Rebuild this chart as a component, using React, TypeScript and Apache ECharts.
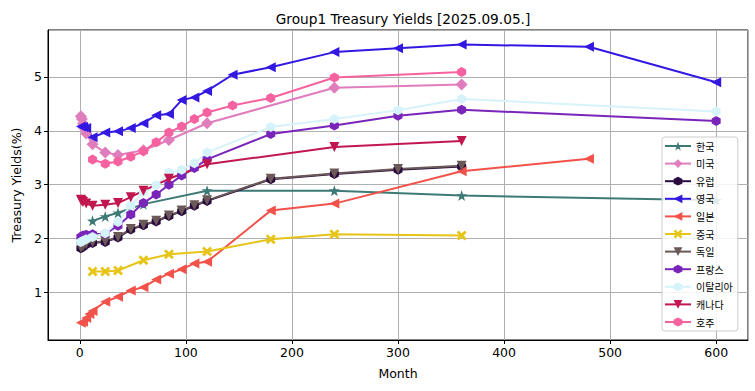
import React, { useEffect, useRef } from "react";
import * as echarts from "echarts";

// ---- data (months, yields %) ----
const koreaMonths = [12, 24, 36, 60, 120, 240, 360, 600];
const koreaYields = [2.33, 2.41, 2.48, 2.64, 2.89, 2.89, 2.8, 2.71];

const usMonths = [1, 2, 3, 4, 6, 12, 24, 36, 60, 84, 120, 240, 360];
const usYields = [4.27, 4.22, 4.13, 4.05, 3.95, 3.75, 3.6, 3.55, 3.64, 3.83, 4.14, 4.8, 4.86];

const euMonths = [1, 3, 6, 12, 24, 36, 48, 60, 72, 84, 96, 108, 120, 180, 240, 300, 360];
const euYields = [1.82, 1.85, 1.89, 1.92, 1.94, 2.02, 2.17, 2.25, 2.32, 2.42, 2.51, 2.61, 2.7, 3.1, 3.2, 3.28, 3.34];

const ukMonths = [1, 3, 6, 12, 24, 36, 48, 60, 72, 84, 96, 108, 120, 144, 180, 240, 300, 360, 480, 600];
const ukYields = [4.08, 4.07, 4.05, 3.88, 3.97, 3.99, 4.05, 4.14, 4.29, 4.31, 4.57, 4.62, 4.74, 5.04, 5.18, 5.46, 5.53, 5.6, 5.56, 4.9];

const jpMonths = [1, 3, 6, 9, 12, 24, 36, 48, 60, 72, 84, 96, 108, 120, 180, 240, 360, 480];
const jpYields = [0.44, 0.46, 0.53, 0.6, 0.66, 0.83, 0.92, 1.04, 1.1, 1.24, 1.35, 1.43, 1.54, 1.57, 2.52, 2.65, 3.25, 3.48];

const cnMonths = [12, 24, 36, 60, 84, 120, 180, 240, 360];
const cnYields = [1.39, 1.39, 1.41, 1.6, 1.71, 1.76, 1.99, 2.08, 2.06];

const deMonths = [1, 3, 6, 12, 24, 36, 48, 60, 72, 84, 96, 108, 120, 180, 240, 300, 360];
const deYields = [1.83, 1.86, 1.9, 1.93, 1.95, 2.03, 2.18, 2.26, 2.33, 2.43, 2.52, 2.62, 2.71, 3.11, 3.21, 3.29, 3.35];

const frMonths = [1, 3, 6, 12, 24, 36, 48, 60, 72, 84, 96, 108, 120, 180, 240, 300, 360, 600];
const frYields = [2.03, 2.06, 2.07, 2.08, 2.09, 2.24, 2.45, 2.66, 2.82, 3.0, 3.17, 3.31, 3.47, 3.94, 4.1, 4.28, 4.39, 4.18];

const itMonths = [1, 3, 6, 12, 24, 36, 48, 60, 72, 84, 96, 108, 120, 180, 240, 300, 360, 600];
const itYields = [1.94, 1.96, 1.99, 2.03, 2.1, 2.31, 2.62, 2.86, 2.99, 3.22, 3.28, 3.4, 3.6, 4.07, 4.22, 4.38, 4.59, 4.36];

const caMonths = [1, 2, 3, 6, 12, 24, 36, 48, 60, 84, 120, 240, 360];
const caYields = [2.72, 2.7, 2.68, 2.65, 2.61, 2.63, 2.66, 2.77, 2.89, 3.11, 3.38, 3.7, 3.81];

const auMonths = [12, 24, 36, 48, 60, 72, 84, 96, 108, 120, 144, 180, 240, 360];
const auYields = [3.47, 3.39, 3.43, 3.52, 3.62, 3.79, 3.97, 4.08, 4.22, 4.34, 4.47, 4.61, 4.99, 5.09];

// ---- marker shapes ----
function starPath(): string {
  const pts: string[] = [];
  for (let i = 0; i < 10; i++) {
    const r = i % 2 === 0 ? 10 : 4;
    const a = -Math.PI / 2 + (i * Math.PI) / 5;
    pts.push(`${(r * Math.cos(a)).toFixed(3)},${(r * Math.sin(a)).toFixed(3)}`);
  }
  return "path://M" + pts.join(" L") + " Z";
}
const STAR = starPath();
const HEX = "path://M0,-10 L8.66,-5 L8.66,5 L0,10 L-8.66,5 L-8.66,-5 Z";
const XMARK =
  "path://M-10,-6 L-6,-10 L0,-4 L6,-10 L10,-6 L4,0 L10,6 L6,10 L0,4 L-6,10 L-10,6 L-4,0 Z";
const LEFT = "path://M0,5 L9,0 L9,10 Z";
const DOWN = "path://M0,0 L10,0 L5,9 Z";

type Def = { name: string; months: number[]; vals: number[]; color: string; symbol: string; size: number | number[] };

const defs: Def[] = [
  { name: "한국", months: koreaMonths, vals: koreaYields, color: "#3d7a76", symbol: STAR, size: 11 },
  { name: "미국", months: usMonths, vals: usYields, color: "#e07dbd", symbol: "diamond", size: 12 },
  { name: "유럽", months: euMonths, vals: euYields, color: "#2a0b3f", symbol: HEX, size: [9, 10] },
  { name: "영국", months: ukMonths, vals: ukYields, color: "#3318e2", symbol: LEFT, size: 10 },
  { name: "일본", months: jpMonths, vals: jpYields, color: "#f2524a", symbol: LEFT, size: 10 },
  { name: "중국", months: cnMonths, vals: cnYields, color: "#e6c418", symbol: XMARK, size: 10 },
  { name: "독일", months: deMonths, vals: deYields, color: "#6b5858", symbol: DOWN, size: 10 },
  { name: "프랑스", months: frMonths, vals: frYields, color: "#7a25ba", symbol: HEX, size: [9, 10] },
  { name: "이탈리아", months: itMonths, vals: itYields, color: "#d6f3fb", symbol: HEX, size: [9, 10] },
  { name: "캐나다", months: caMonths, vals: caYields, color: "#c2164f", symbol: DOWN, size: 10 },
  { name: "호주", months: auMonths, vals: auYields, color: "#f5629f", symbol: HEX, size: [9, 10] },
];

export default function App() {
  const ref = useRef<HTMLDivElement>(null);
  useEffect(() => {
    if (!ref.current) return;
    const chart = echarts.init(ref.current, undefined, { renderer: "svg" });
    const font = "DejaVu Sans";
    chart.setOption({
      animation: false,
      backgroundColor: "#ffffff",
      title: {
        text: "Group1 Treasury Yields [2025.09.05.]",
        left: 398,
        top: 7,
        textAlign: "center",
        textStyle: { fontFamily: font, fontSize: 13.7, fontWeight: "normal", color: "#000" },
      },
      legend: {
        orient: "vertical",
        left: 662,
        top: 137,
        backgroundColor: "rgba(255,255,255,0.85)",
        borderColor: "#cccccc",
        borderWidth: 1,
        borderRadius: 3,
        padding: [3, 5, 3, 2],
        itemWidth: 26,
        itemHeight: 11,
        itemGap: 5.6,
        textStyle: { fontFamily: "Noto Sans CJK KR", fontSize: 10, color: "#000", lineHeight: 12 },
        data: defs.map((d) => d.name),
      },
      grid: { left: 48, right: 7, top: 30, bottom: 51, show: true, borderColor: "#000", borderWidth: 1 },
      xAxis: {
        type: "value",
        min: -30,
        max: 630,
        splitNumber: 7,
        name: "Month",
        nameLocation: "middle",
        nameGap: 27,
        nameTextStyle: { fontFamily: font, fontSize: 12.5, color: "#000" },
        axisLine: { show: true, onZero: false, lineStyle: { color: "#000", width: 1 } },
        axisTick: { show: true, length: 4, lineStyle: { color: "#000" } },
        axisLabel: {
          fontFamily: font,
          fontSize: 12.5,
          color: "#000",
          margin: 6,
          showMinLabel: false,
          showMaxLabel: false,
          formatter: (v: number) => (Math.abs(v % 100) < 1e-6 ? String(v) : ""),
        },
        splitLine: { show: true, lineStyle: { color: "#b0b0b0", width: 1 } },
      },
      yAxis: {
        type: "value",
        min: 0.12,
        max: 5.87,
        splitNumber: 6,
        name: "Treasury Yields(%)",
        nameLocation: "middle",
        nameGap: 24,
        nameTextStyle: { fontFamily: font, fontSize: 12.5, color: "#000" },
        axisLine: { show: true, onZero: false, lineStyle: { color: "#000", width: 1 } },
        axisTick: { show: true, length: 4, lineStyle: { color: "#000" } },
        axisLabel: {
          fontFamily: font,
          fontSize: 12.5,
          color: "#000",
          margin: 6,
          showMinLabel: false,
          showMaxLabel: false,
          formatter: (v: number) => (Math.abs(v - Math.round(v)) < 1e-6 ? String(Math.round(v)) : ""),
        },
        splitLine: { show: true, lineStyle: { color: "#b0b0b0", width: 1 } },
      },
      series: defs.map((d) => ({
        name: d.name,
        type: "line",
        data: d.months.map((m, i) => [m, d.vals[i]]),
        symbol: d.symbol,
        symbolSize: d.size,
        showAllSymbol: true,
        color: d.color,
        itemStyle: { color: d.color },
        lineStyle: { color: d.color, width: 2 },
        emphasis: { disabled: true },
      })),
    });
    return () => chart.dispose();
  }, []);
  return (
    <div
      ref={ref}
      style={{ position: "fixed", left: 0, top: 0, width: 755, height: 391 }}
    />
  );
}
